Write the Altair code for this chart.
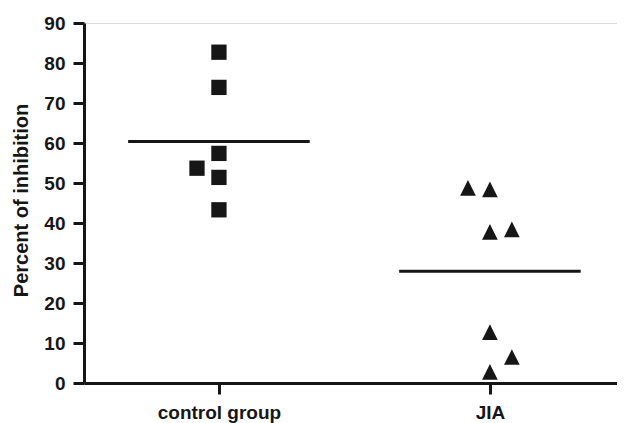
import altair as alt
import pandas as pd

groups = ["control group", "JIA"]
control_values = [82.7, 73.9, 57.4, 53.7, 51.4, 43.3]
control_jitter = [0, 0, 0, -1, 0, 0]
jia_values = [48.8, 48.4, 37.8, 38.4, 12.7, 6.5, 2.8]
jia_jitter = [-1, 0, 0, 1, 0, 1, 0]
y_ticks = [0, 10, 20, 30, 40, 50, 60, 70, 80, 90]

rows = []
for v, j in zip(control_values, control_jitter):
    rows.append({"group": groups[0], "gi": 0, "value": v, "jitter": j})
for v, j in zip(jia_values, jia_jitter):
    rows.append({"group": groups[1], "gi": 1, "value": v, "jitter": j})
df = pd.DataFrame(rows)

INK = "#161616"
FONT = "Liberation Sans"

xscale = alt.Scale(domain=[-0.498, 1.469], nice=False, zero=False)
yscale = alt.Scale(domain=[0, 90], nice=False)

xaxis = alt.Axis(
    values=[0, 1],
    labelExpr="datum.value == 0 ? 'control group' : 'JIA'",
    grid=False, title=None,
    domainColor=INK, domainWidth=3, tickColor=INK, tickWidth=3, tickSize=11,
    labelFont=FONT, labelFontSize=19, labelFontWeight="bold", labelColor=INK,
    labelPadding=9, labelFlush=False,
)
yaxis = alt.Axis(
    values=y_ticks, grid=False, title="Percent of inhibition",
    domainColor=INK, domainWidth=3, tickColor=INK, tickWidth=3, tickSize=11,
    labelFont=FONT, labelFontSize=19, labelFontWeight="bold", labelColor=INK,
    labelPadding=8,
    titleFont=FONT, titleFontSize=20, titleFontWeight="bold", titleColor=INK,
    titleAngle=-90, titleX=-57, titleY=177, titleAlign="center",
    titleBaseline="alphabetic",
)

base = alt.Chart(df).transform_calculate(xpos="datum.gi + datum.jitter * 0.081")

squares = base.transform_filter("datum.gi == 0").mark_point(
    shape="square", filled=True, size=234, color=INK, opacity=1
).encode(
    x=alt.X("xpos:Q", scale=xscale, axis=xaxis),
    y=alt.Y("value:Q", scale=yscale, axis=yaxis),
)

triangles = base.transform_filter("datum.gi == 1").mark_point(
    shape="M-1,1L1,1L0,-1Z", filled=True, size=246, color=INK, opacity=1
).encode(
    x=alt.X("xpos:Q", scale=xscale, axis=xaxis),
    y=alt.Y("value:Q", scale=yscale, axis=yaxis),
)

means = alt.Chart(df).transform_aggregate(
    mean="mean(value)", groupby=["gi"]
).transform_calculate(
    x1="datum.gi - 0.335", x2="datum.gi + 0.335"
).mark_rule(strokeWidth=3, color=INK).encode(
    x=alt.X("x1:Q", scale=xscale, axis=xaxis),
    x2="x2:Q",
    y=alt.Y("mean:Q", scale=yscale, axis=yaxis),
)

chart = alt.layer(means, squares, triangles).properties(
    width=533, height=360,
    autosize=alt.AutoSizeParams(type="none"),
    padding={"left": 76, "top": 15, "right": 0, "bottom": 40},
).configure_view(stroke=None).configure(background="white")

chart.save("out.html", embed_options={"renderer": "svg", "actions": False})
